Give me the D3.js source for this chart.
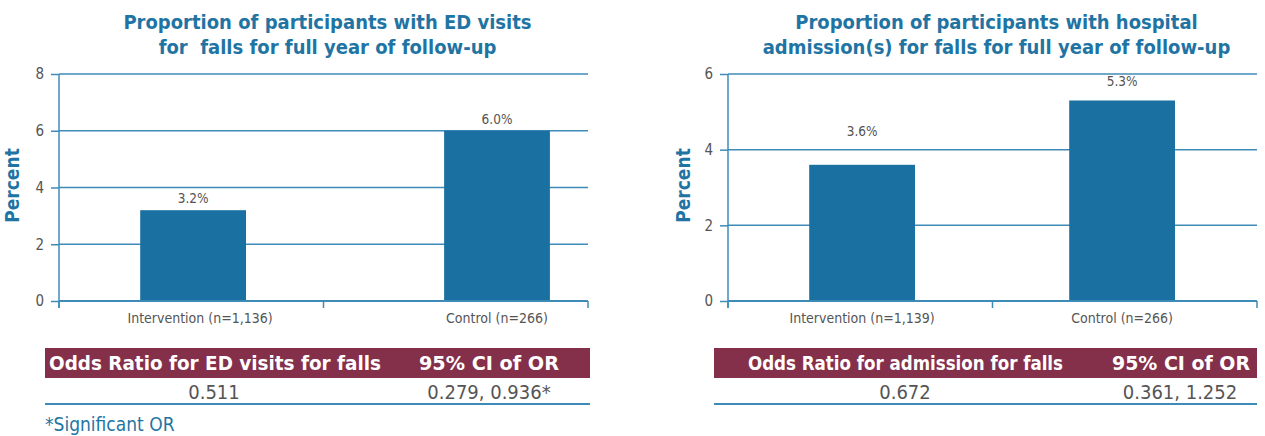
<!DOCTYPE html>
<html>
<head>
<meta charset="utf-8">
<script src="https://cdn.jsdelivr.net/npm/d3@7"></script>
<style>
  html, body { margin: 0; padding: 0; background: #fff; }
  svg { display: block; }
</style>
</head>
<body>
<svg id="chart" width="1265" height="436"></svg>
<script>
// ED visits panel
const edTitle = ["Proportion of participants with ED visits", "for  falls for full year of follow-up"];
const edCategories = ["Intervention (n=1,136)", "Control (n=266)"];
const edValues = [3.2, 6.0];
const edLabels = ["3.2%", "6.0%"];
const edTicks = [0, 2, 4, 6, 8];
const edTableHead = ["Odds Ratio for ED visits for falls", "95% CI of OR"];
const edTableRow = ["0.511", "0.279, 0.936*"];

// Hospital admission panel
const admTitle = ["Proportion of participants with hospital", "admission(s) for falls for full year of follow-up"];
const admCategories = ["Intervention (n=1,139)", "Control (n=266)"];
const admValues = [3.6, 5.3];
const admLabels = ["3.6%", "5.3%"];
const admTicks = [0, 2, 4, 6];
const admTableHead = ["Odds Ratio for admission for falls", "95% CI of OR"];
const admTableRow = ["0.672", "0.361, 1.252"];

const footnote = "*Significant OR";

const BLUE = "#1a70a0";
const TITLE_BLUE = "#1f74a3";
const GRID = "#3f8bb8";
const TEXT_GREY = "#555";
const MAROON = "#85304b";
const FONT = '"Liberation Sans Narrow", "DejaVu Sans Condensed", Roboto, sans-serif';

const svg = d3.select("#chart");

const panels = [
  {
    title: edTitle, cats: edCategories, vals: edValues, labels: edLabels, ticks: edTicks,
    head: edTableHead, row: edTableRow,
    x0: 59, x1: 588, yTop: 74, yBot: 301, yLabelX: 19,
    barShift: [0.007, 0.156], catShift: [7, 0], labelGap: [7, 7],
    table: { x0: 45, x1: 590, headCols: [49, 419], headWidths: [332, 140], rowCenters: [214, 489] }
  },
  {
    title: admTitle, cats: admCategories, vals: admValues, labels: admLabels, ticks: admTicks,
    head: admTableHead, row: admTableRow,
    x0: 728, x1: 1257, yTop: 74, yBot: 301, yLabelX: 690,
    barShift: [0.007, -0.01], catShift: [0, 0], labelGap: [29, 14],
    table: { x0: 714, x1: 1257, headCols: [748, 1112], headWidths: [315, 138], rowCenters: [905, 1180] }
  }
];

panels.forEach(p => {
  const g = svg.append("g");
  const yMax = d3.max(p.ticks);
  const y = d3.scaleLinear().domain([0, yMax]).range([p.yBot, p.yTop]);
  const x = d3.scaleBand().domain(p.cats).range([p.x0, p.x1]);
  const barW = x.bandwidth() * 0.4;
  const cx = (c, i) => x(c) + x.bandwidth() / 2 + p.barShift[i] * x.step();

  // Title
  const midX = (p.x0 + p.x1) / 2 + 4;
  g.append("text")
    .attr("x", midX).attr("y", 29)
    .attr("text-anchor", "middle")
    .style("white-space", "pre")
    .style("font-family", FONT).style("font-weight", "bold").style("font-size", "20px")
    .style("fill", TITLE_BLUE)
    .selectAll("tspan").data(p.title).join("tspan")
    .attr("x", midX).attr("dy", (d, i) => i === 0 ? 0 : 25)
    .text(d => d);

  // Gridlines
  g.append("g").selectAll("line").data(p.ticks.filter(t => t > 0)).join("line")
    .attr("x1", p.x0).attr("x2", p.x1)
    .attr("y1", d => y(d)).attr("y2", d => y(d))
    .attr("stroke", GRID).attr("stroke-width", 1.5);

  // Bars
  g.append("g").selectAll("rect").data(p.vals).join("rect")
    .attr("x", (d, i) => cx(p.cats[i], i) - barW / 2)
    .attr("width", barW)
    .attr("y", d => y(d))
    .attr("height", d => y(0) - y(d))
    .attr("fill", BLUE);

  // Value labels
  g.append("g").selectAll("text").data(p.vals).join("text")
    .attr("x", (d, i) => cx(p.cats[i], i))
    .attr("y", (d, i) => y(d) - p.labelGap[i])
    .attr("text-anchor", "middle")
    .style("font-family", FONT).style("font-size", "13.5px").style("fill", TEXT_GREY)
    .text((d, i) => p.labels[i]);

  // Y axis
  const yAxis = d3.axisLeft(y).tickValues(p.ticks).tickSize(8).tickPadding(7).tickFormat(d3.format("d"));
  const ya = g.append("g").attr("transform", `translate(${p.x0},0)`).call(yAxis);
  ya.select(".domain").remove();
  ya.selectAll(".tick line").attr("stroke", GRID).attr("stroke-width", 1.5);
  ya.selectAll(".tick text").style("font-family", FONT).style("font-size", "15px").style("fill", TEXT_GREY);
  g.append("line")
    .attr("x1", p.x0).attr("x2", p.x0).attr("y1", p.yTop).attr("y2", p.yBot + 7)
    .attr("stroke", GRID).attr("stroke-width", 1.5);

  // X axis baseline and category boundary ticks
  g.append("line")
    .attr("x1", p.x0).attr("x2", p.x1).attr("y1", y(0)).attr("y2", y(0))
    .attr("stroke", GRID).attr("stroke-width", 2);
  const bounds = p.cats.map(c => x(c)).concat([p.x1]);
  g.append("g").selectAll("line").data(bounds).join("line")
    .attr("x1", d => d).attr("x2", d => d).attr("y1", y(0)).attr("y2", y(0) + 7)
    .attr("stroke", GRID).attr("stroke-width", 1.5);

  // Category labels
  g.append("g").selectAll("text").data(p.cats).join("text")
    .attr("x", (d, i) => cx(d, i) + p.catShift[i])
    .attr("y", y(0) + 22)
    .attr("text-anchor", "middle")
    .style("font-family", FONT).style("font-size", "14px").style("fill", TEXT_GREY)
    .text(d => d);

  // Y axis title
  g.append("text")
    .attr("transform", `translate(${p.yLabelX},${(p.yTop + p.yBot) / 2 - 2}) rotate(-90)`)
    .attr("text-anchor", "middle")
    .style("font-family", FONT).style("font-weight", "bold").style("font-size", "19px")
    .style("fill", TITLE_BLUE)
    .text("Percent");

  // Odds ratio table
  const t = p.table;
  g.append("rect")
    .attr("x", t.x0).attr("y", 348).attr("width", t.x1 - t.x0).attr("height", 30)
    .attr("fill", MAROON);
  g.append("g").selectAll("text").data(p.head).join("text")
    .attr("x", (d, i) => t.headCols[i]).attr("y", 370)
    .attr("textLength", (d, i) => t.headWidths[i])
    .attr("lengthAdjust", "spacingAndGlyphs")
    .style("font-family", FONT).style("font-weight", "bold").style("font-size", "20px")
    .style("fill", "#fff")
    .text(d => d);
  g.append("g").selectAll("text").data(p.row).join("text")
    .attr("x", (d, i) => t.rowCenters[i]).attr("y", 399)
    .attr("text-anchor", "middle")
    .style("font-family", FONT).style("font-size", "20px").style("fill", TEXT_GREY)
    .text(d => d);
  g.append("line")
    .attr("x1", t.x0).attr("x2", t.x1).attr("y1", 404).attr("y2", 404)
    .attr("stroke", GRID).attr("stroke-width", 2);
});

svg.append("text")
  .attr("x", 45).attr("y", 431)
  .style("font-family", FONT).style("font-size", "19px").style("fill", TITLE_BLUE)
  .text(footnote);
</script>
</body>
</html>
